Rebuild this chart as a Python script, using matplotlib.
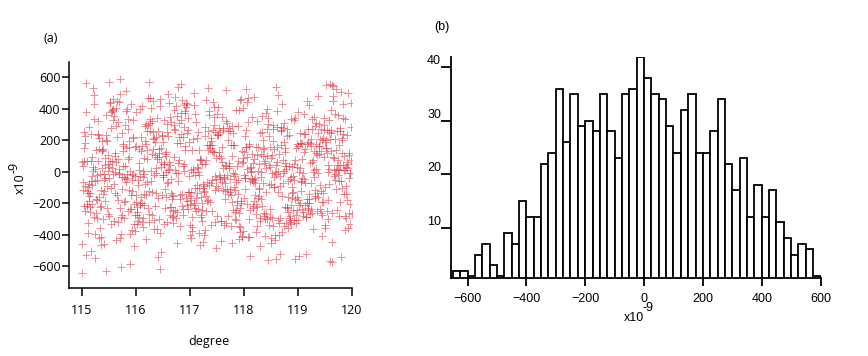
import numpy as np
import matplotlib
matplotlib.use("Agg")
import matplotlib.pyplot as plt

# histogram (b): bins of 25 (x1e-9) starting at -650, counts
bin_start = -650
bin_width = 25
counts = [2, 2, 1, 5, 7, 3, 1, 9, 7, 15, 12, 12, 22, 24, 36, 26, 35, 29, 30, 28,
          35, 28, 23, 35, 36, 42, 38, 35, 34, 29, 24, 32, 35, 24, 24, 28, 34, 22,
          17, 23, 12, 18, 12, 17, 11, 8, 5, 7, 6, 1]
x_ticks_a = [115, 116, 117, 118, 119, 120]
y_ticks_a = [-600, -400, -200, 0, 200, 400, 600]
x_ticks_b = [-600, -400, -200, 0, 200, 400, 600]
y_ticks_b = [10, 20, 30, 40]

edges = bin_start + bin_width * np.arange(len(counts) + 1)

# scatter (a): the same values the histogram counts, one sample per step in degree.
# individual points can't be read, so each bin's values are spread inside the bin
# and paired with the degree grid by a fixed (non-random) ordering
vals = np.concatenate([lo + (np.arange(c) + 0.5) / c * bin_width
                       for lo, c in zip(edges[:-1], counts)])
n = len(vals)
deg = np.linspace(115, 120, n)
idx = np.arange(n, dtype=np.int64)
order = np.argsort((idx ** 3 * 2557 + idx * idx * 7919 + idx * 389) % 10007)
vals = vals[order]

fig = plt.figure(figsize=(8.68, 3.56), dpi=100)

# ---- (a) scatter
ax1 = fig.add_axes([0.0795, 0.191, 0.3255, 0.636])
ax1.plot(deg, vals, ls="none", marker="+", ms=5.5, mew=0.7,
         color="#e0303c", alpha=0.55)
ax1.set_xlim(114.76, 120.0)
ax1.set_ylim(-740, 700)
ax1.set_xticks(x_ticks_a)
ax1.set_yticks(y_ticks_a)
for s in ["top", "right"]:
    ax1.spines[s].set_visible(False)
for s in ["left", "bottom"]:
    ax1.spines[s].set_linewidth(1.1)
ax1.tick_params(axis="x", direction="out", length=6, width=1.1, pad=5.5)
ax1.tick_params(axis="y", direction="out", length=5, width=1.1, pad=1)
for lab in ax1.get_xticklabels() + ax1.get_yticklabels():
    lab.set_family("Open Sans")
    lab.set_fontsize(9)

fig.text(51 / 868, 1 - 38.5 / 356, "(a)", family="Open Sans", fontsize=9,
         ha="center", va="center")
fig.text(20 / 868, 1 - 184 / 356, "x10", family="Open Sans", fontsize=9,
         ha="center", va="center", rotation=90)
fig.text(14 / 868, 1 - 167.5 / 356, "-9", family="Open Sans", fontsize=9,
         ha="center", va="center", rotation=90)
fig.text(209 / 868, 1 - 341 / 356, "degree", family="Open Sans", fontsize=9,
         ha="center", va="center")

# ---- (b) histogram
ax2 = fig.add_axes([0.520, 0.219, 0.426, 0.622])
ax2.bar(edges[:-1], counts, width=bin_width, align="edge",
        facecolor="white", edgecolor="black", linewidth=1.3)
ax2.set_xlim(-655, 602)
ax2.set_ylim(0.6, 42)
ax2.set_xticks(x_ticks_b)
ax2.set_yticks(y_ticks_b)
for s in ["top", "right"]:
    ax2.spines[s].set_visible(False)
for s in ["left", "bottom"]:
    ax2.spines[s].set_linewidth(1.3)
ax2.tick_params(axis="x", direction="out", length=6, width=1.3, pad=5)
ax2.tick_params(axis="y", direction="out", length=7, width=1.3, pad=0.5)
for lab in ax2.get_xticklabels() + ax2.get_yticklabels():
    lab.set_family("Liberation Sans")
    lab.set_fontsize(9)
for lab in ax2.get_yticklabels():
    lab.set_va("bottom")

fig.text(442 / 868, 1 - 27 / 356, "(b)", family="Liberation Sans", fontsize=9,
         ha="center", va="center")
fig.text(634 / 868, 1 - 318 / 356, "x10", family="Liberation Sans", fontsize=9,
         ha="center", va="center")
fig.text(648 / 868, 1 - 308 / 356, "-9", family="Liberation Sans", fontsize=9,
         ha="center", va="center")

fig.savefig("out.png", dpi=100)
